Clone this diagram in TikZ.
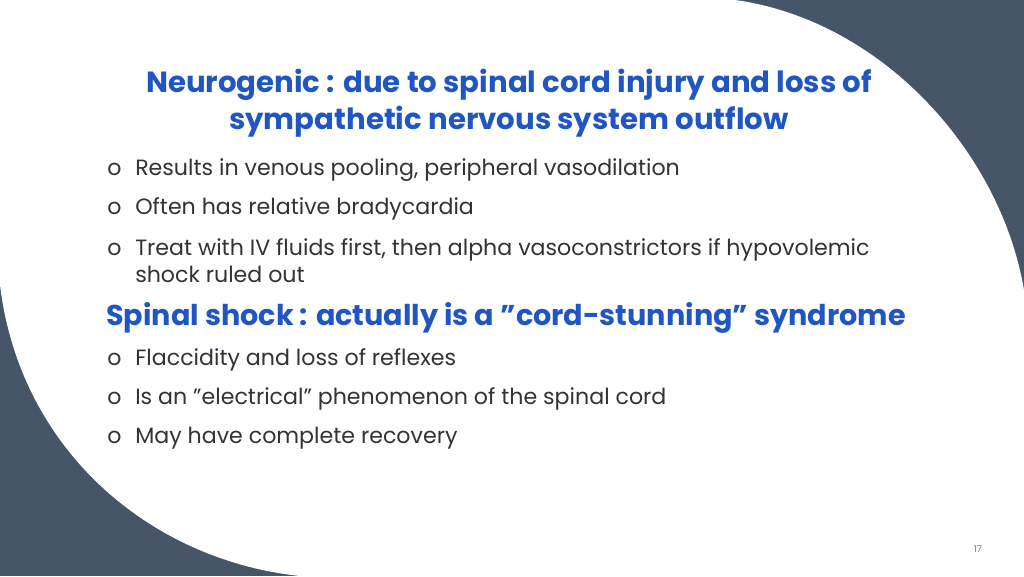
\documentclass[tikz,border=0pt]{standalone}
\usepackage{fontspec}
\setmainfont{Poppins}
\definecolor{slate}{HTML}{475569}
\definecolor{titleblue}{HTML}{1F56C3}
\definecolor{bodytext}{HTML}{333333}
\tikzset{
  titletext/.style={text=titleblue, font=\fontsize{21.9}{28}\selectfont\bfseries, align=center},
  headtext/.style={text=titleblue, font=\fontsize{21.5}{24}\selectfont\bfseries, anchor=west, inner sep=0pt},
  bullet/.style={text=bodytext, font=\fontsize{16.6}{20.3}\selectfont, anchor=west, align=left, inner sep=0pt}
}
\newcommand{\bmark}{\makebox[21pt][l]{o}}
\begin{document}
\begin{tikzpicture}[x=0.75pt,y=-0.75pt]
  \fill[slate] (0,0) rectangle (1024,576);
  % white sheet
  \fill[white] (0,0) -- (735,0) .. controls (880,20) and (1000,150) .. (1024,290)
    -- (1024,576) -- (300,576) .. controls (150,560) and (20,450) .. (0,285) -- cycle;
  \node[titletext] (title) at (509,103) {Neurogenic : due to spinal cord injury and loss of\\sympathetic nervous system outflow};
  \node[bullet] (b1) at (107,170) {\bmark Results in venous pooling, peripheral vasodilation};
  \node[bullet] (b2) at (107,209) {\bmark Often has relative bradycardia};
  \node[bullet] (b3) at (107,261) {\bmark Treat with IV fluids first, then alpha vasoconstrictors if hypovolemic\\\hspace*{21pt}shock ruled out};
  \node[headtext] (head) at (106,318) {Spinal shock : actually is a \char34 cord-stunning\char34{} syndrome};
  \node[bullet] (b4) at (107,360) {\bmark Flaccidity and loss of reflexes};
  \node[bullet] (b5) at (107,399) {\bmark Is an \char34 electrical\char34{} phenomenon of the spinal cord};
  \node[bullet] (b6) at (107,438) {\bmark May have complete recovery};
  \node[text=gray, font=\fontsize{7}{8}\selectfont] (page) at (978,549) {17};
\end{tikzpicture}
\end{document}
